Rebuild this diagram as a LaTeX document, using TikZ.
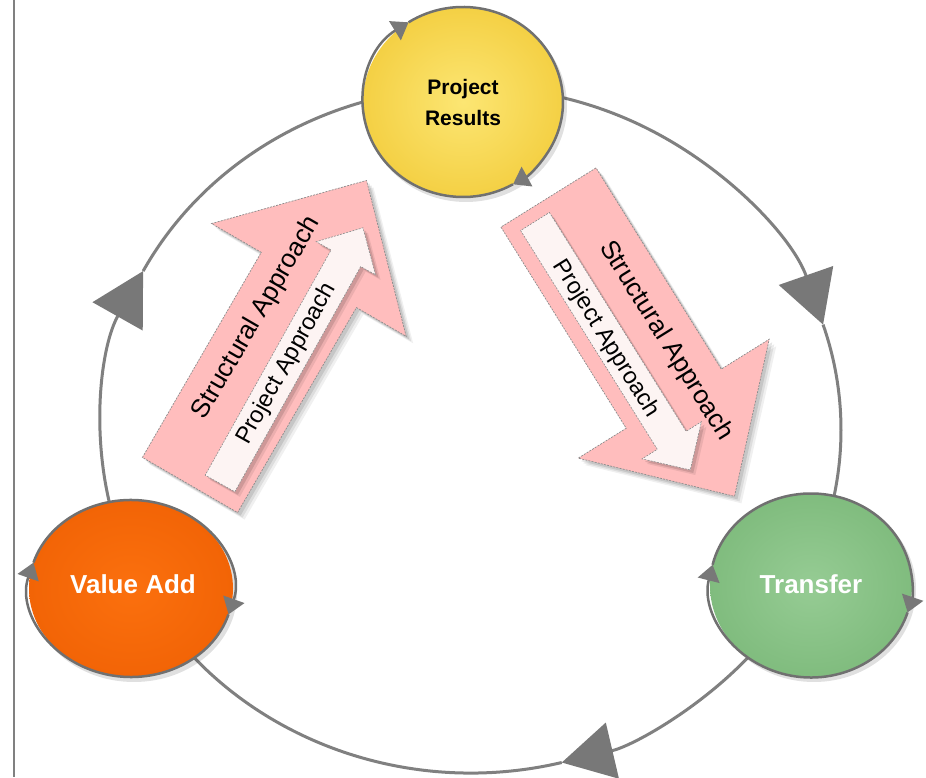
\documentclass[tikz,border=0pt]{standalone}
\usepackage{fontspec}
\setmainfont{Liberation Sans}
\usetikzlibrary{arrows.meta,shapes.geometric}
\definecolor{ringgray}{RGB}{128,128,128}
\definecolor{tipgray}{RGB}{120,120,120}
\definecolor{pinkfill}{RGB}{255,189,189}
\definecolor{palefill}{RGB}{253,244,243}
\definecolor{edgegray}{RGB}{140,140,140}
\definecolor{yelIn}{RGB}{252,230,115}
\definecolor{yelOut}{RGB}{244,208,68}
\definecolor{orIn}{RGB}{251,112,14}
\definecolor{orOut}{RGB}{242,100,6}
\definecolor{grIn}{RGB}{150,204,148}
\definecolor{grOut}{RGB}{128,188,126}
\definecolor{bordergray}{RGB}{112,112,112}
\newcommand\arrowshape[4]{(0,-#4) -- ({#1-#2},-#4) -- ({#1-#2},-#3) -- (#1,0) -- ({#1-#2},#3) -- ({#1-#2},#4) -- (0,#4) -- cycle}
\begin{document}
\begin{tikzpicture}[x=1pt,y=1pt,
  leftrule/.style={draw=ringgray,line width=2.5pt},
  ring/.style={draw=ringgray,line width=3pt,-{Triangle[length=52pt,width=57pt,color=tipgray]}},
  nodering/.style={draw=bordergray,line width=2.5pt,-{Triangle[length=16pt,width=22pt,color=tipgray]}},
  bubble/.style={ellipse,draw=none,inner sep=0pt,align=center},
  pinkarrow/.style={fill=pinkfill,draw=edgegray,line width=0.7pt,dash pattern=on 2pt off 1.2pt},
  palearrow/.style={fill=palefill,draw=edgegray,line width=0.6pt,dash pattern=on 2pt off 1.2pt},
  structtext/.style={font=\fontsize{26}{30}\selectfont,text=black},
  projtext/.style={font=\fontsize{23.5}{28}\selectfont,text=black},
  bubbletext/.style={font=\bfseries\fontsize{26}{30}\selectfont,text=white}
]
\useasboundingbox (0,0) rectangle (926,777);
\fill[white] (0,0) rectangle (926,777);

% left rule
\coordinate (lt) at (14,777);
\coordinate (lb) at (14,0);
\draw[leftrule] (lt) -- (lb);

% big ring
\coordinate (ctr) at (471,347);
\path (ctr) ++(152.4:370 and 343) coordinate (r1);
\path (ctr) ++(17.9:370 and 343) coordinate (r2);
\path (ctr) ++(-75.8:370 and 343) coordinate (r3);
\draw[ring] (r1) arc[start angle=152.4,end angle=17.9,x radius=370,y radius=343];
\draw[ring] (r2) arc[start angle=17.9,end angle=-75.8,x radius=370,y radius=343];
\draw[ring] (r3) arc[start angle=284.2,end angle=152.4,x radius=370,y radius=343];

% left pink arrow
\foreach \d/\o in {3/0.10,5/0.08,7/0.06}{
  \begin{scope}[shift={(190+\d,292-\d)},rotate=59.9]
    \fill[black,opacity=\o] \arrowshape{352}{115}{112.5}{55};
  \end{scope}}
\begin{scope}[shift={(190,292)},rotate=59.9]
  \path[pinkarrow] \arrowshape{352}{115}{112.5}{55};
  \node[structtext,rotate=59.9] (sa1) at (178,26) {Structural Approach};
\end{scope}
\foreach \d/\o in {3/0.12,5/0.08}{
  \begin{scope}[shift={(220+\d,293.5-\d)},rotate=60.8]
    \fill[black,opacity=\o] \arrowshape{293}{35}{34}{17};
  \end{scope}}
\begin{scope}[shift={(220,293.5)},rotate=60.8]
  \path[palearrow] \arrowshape{293}{35}{34}{17};
  \node[projtext,rotate=60.8] (pa1) at (137,0) {Project Approach};
\end{scope}

% right pink arrow
\foreach \d/\o in {3/0.10,5/0.08,7/0.06}{
  \begin{scope}[shift={(548.5+\d,579.5-\d)},rotate=-58.1]
    \fill[black,opacity=\o] \arrowshape{352}{115}{112.5}{56};
  \end{scope}}
\begin{scope}[shift={(548.5,579.5)},rotate=-58.1]
  \path[pinkarrow] \arrowshape{352}{115}{112.5}{56};
  \node[structtext,rotate=-58.1] (sa2) at (184,24) {Structural Approach};
\end{scope}
\foreach \d/\o in {3/0.12,5/0.08}{
  \begin{scope}[shift={(535+\d,555.5-\d)},rotate=-58]
    \fill[black,opacity=\o] \arrowshape{293}{35}{35}{17};
  \end{scope}}
\begin{scope}[shift={(535,555.5)},rotate=-58]
  \path[palearrow] \arrowshape{293}{35}{35}{17};
  \node[projtext,rotate=-58] (pa2) at (137,-2) {Project Approach};
\end{scope}

% bubble shadows
\fill[black,opacity=0.12] (466,671) ellipse[x radius=101,y radius=96];
\fill[black,opacity=0.12] (134,184) ellipse[x radius=103,y radius=89];
\fill[black,opacity=0.12] (814,188) ellipse[x radius=102,y radius=93];

% bubbles
\node[bubble,minimum width=200pt,minimum height=190pt,inner color=yelIn,outer color=yelOut,
      font=\bfseries\fontsize{21}{31}\selectfont] (pr) at (463,675) {Project\\Results};
\node[bubble,minimum width=204pt,minimum height=177pt,inner color=orIn,outer color=orOut] (va) at (131,188.5) {};
\node[bubbletext] (vat) at (133,193) {Value Add};
\node[bubble,minimum width=202pt,minimum height=184pt,inner color=grIn,outer color=grOut] (tr) at (811,191.5) {};
\node[bubbletext] (trt) at (811,193) {Transfer};

% bubble rings with arrows
\path (pr.center) ++(300:100 and 95) coordinate (pr1);
\path (pr.center) ++(123:100 and 95) coordinate (pr2);
\draw[nodering] (pr1) arc[start angle=300,end angle=123,x radius=100,y radius=95];
\draw[nodering] (pr2) arc[start angle=123,end angle=-60,x radius=100,y radius=95];

\path (va.center) ++(-17:102 and 88.5) coordinate (va1);
\path (va.center) ++(163:102 and 88.5) coordinate (va2);
\draw[nodering] (va1) arc[start angle=343,end angle=163,x radius=102,y radius=88.5];
\draw[nodering] (va2) arc[start angle=163,end angle=-17,x radius=102,y radius=88.5];

\path (tr.center) ++(-17:101 and 92) coordinate (tr1);
\path (tr.center) ++(167:101 and 92) coordinate (tr2);
\draw[nodering] (tr1) arc[start angle=343,end angle=167,x radius=101,y radius=92];
\draw[nodering] (tr2) arc[start angle=167,end angle=-17,x radius=101,y radius=92];
\end{tikzpicture}
\end{document}
